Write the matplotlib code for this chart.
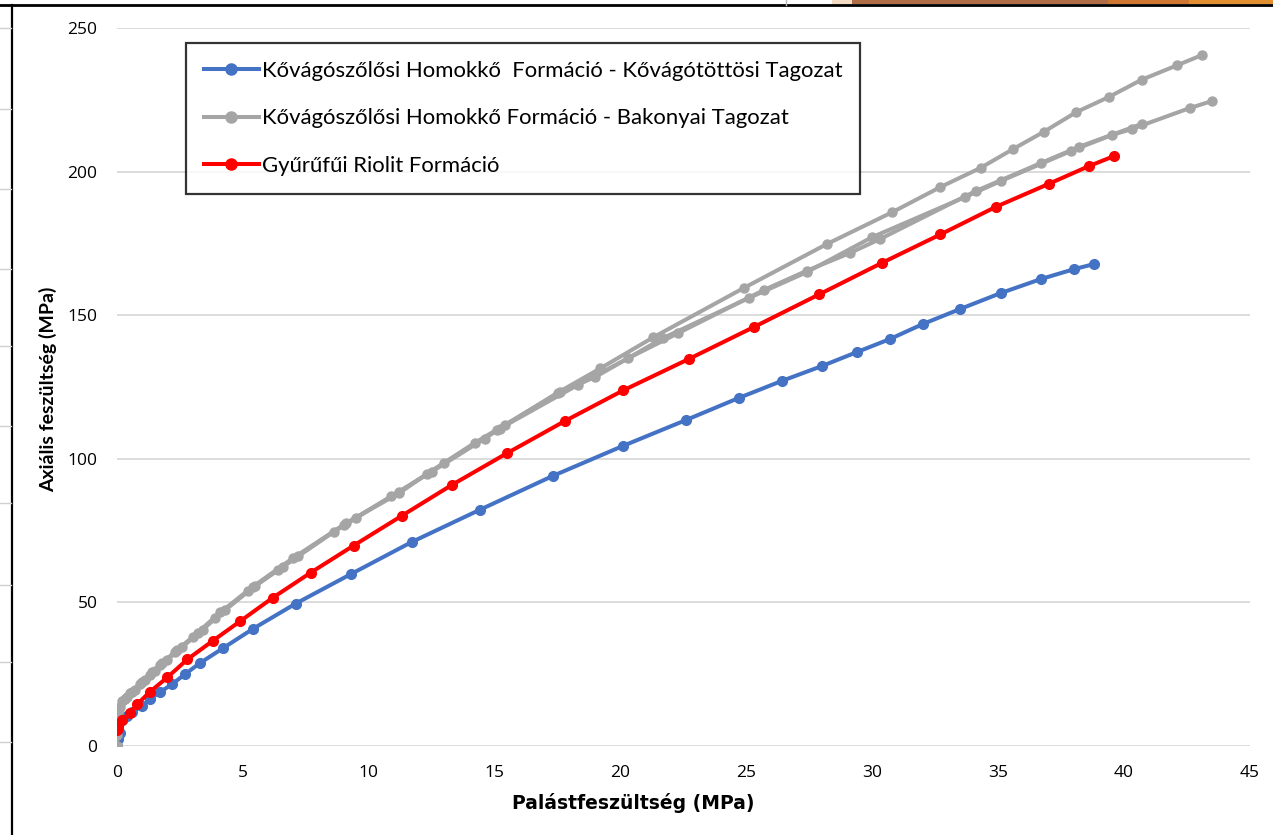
import matplotlib
matplotlib.use("Agg")
import matplotlib.pyplot as plt
from matplotlib.lines import Line2D
from matplotlib.patches import Rectangle

# Kővágótöttösi Tagozat (kék)
kt_x = [0.0, 0.05, 0.1, 0.2, 0.4, 0.6, 1.0, 1.3, 1.7, 2.2, 2.7, 3.3, 4.2, 5.4, 7.1,
        9.3, 11.7, 14.4, 17.3, 20.1, 22.6, 24.7, 26.4, 28.0, 29.4, 30.7, 32.0,
        33.5, 35.1, 36.7, 38.0, 38.8]
kt_y = [0.0, 2.5, 4.5, 9.1, 10.5, 12.0, 13.8, 16.3, 18.7, 21.6, 25.0, 28.9, 34.0,
        40.8, 49.6, 59.9, 71.0, 82.2, 94.0, 104.5, 113.5, 121.2, 127.1, 132.3,
        137.2, 141.7, 146.9, 152.2, 157.7, 162.6, 166.0, 167.8]

# Bakonyai Tagozat (szürke) - három minta
bk1_x = [0.0, 0.0, 0.05, 0.3, 0.6, 1.0, 1.4, 1.8, 2.4, 3.2, 4.1, 5.4, 7.0, 9.0,
         11.2, 13.0, 15.2, 17.5, 19.2, 21.3, 24.9, 28.2, 30.8, 32.7, 34.3, 35.6,
         36.8, 38.1, 39.4, 40.7, 42.1, 43.1]
bk1_y = [0.0, 4.0, 12.0, 16.3, 18.8, 22.2, 25.6, 28.8, 33.3, 39.5, 46.5, 55.5,
         65.5, 77.0, 88.5, 98.5, 110.5, 123.0, 131.5, 142.3, 159.5, 174.8, 185.9,
         194.6, 201.3, 207.9, 213.8, 220.7, 226.0, 232.0, 237.0, 240.6]

bk2_x = [0.0, 0.0, 0.0, 0.1, 0.4, 0.7, 1.1, 1.5, 2.0, 2.6, 3.4, 4.3, 5.5, 6.4, 7.2,
         9.1, 11.2, 12.3, 14.2, 15.4, 17.6, 19.0, 21.7, 25.1, 27.4, 30.0, 33.7,
         35.1, 37.9, 39.5, 40.3, 42.6, 43.5]
bk2_y = [0.0, 6.0, 10.8, 13.6, 17.0, 19.5, 23.0, 26.2, 30.0, 34.5, 40.5, 47.4,
         55.8, 61.3, 66.2, 77.6, 88.0, 94.7, 105.5, 111.8, 123.3, 128.5, 142.1,
         156.0, 165.0, 177.2, 191.2, 196.7, 207.2, 212.7, 214.8, 222.1, 224.6]

bk3_x = [0.0, 0.0, 0.05, 0.2, 0.5, 0.9, 1.3, 1.7, 2.3, 3.0, 3.9, 5.2, 6.6, 8.6,
         9.5, 10.9, 12.5, 14.6, 15.1, 18.3, 20.3, 22.3, 25.7, 27.4, 29.1, 30.3,
         34.1, 36.7, 38.2, 40.7]
bk3_y = [0.0, 8.0, 12.5, 15.5, 18.5, 21.5, 24.8, 28.2, 32.8, 37.8, 44.5, 54.0,
         62.5, 74.5, 79.4, 87.0, 95.5, 107.0, 110.0, 125.7, 135.0, 143.8, 158.8,
         165.5, 171.6, 176.5, 193.2, 203.0, 208.6, 216.6]

# Gyűrűfűi Riolit Formáció (piros)
gy_x = [0.0, 0.05, 0.2, 0.5, 0.8, 1.3, 2.0, 2.8, 3.8, 4.9, 6.2, 7.7, 9.4, 11.3,
        13.3, 15.5, 17.8, 20.1, 22.7, 25.3, 27.9, 30.4, 32.7, 34.9, 37.0, 38.6,
        39.6]
gy_y = [5.5, 6.6, 9.0, 11.5, 14.5, 18.8, 23.9, 30.2, 36.6, 43.5, 51.7, 60.4, 69.8,
        80.1, 90.9, 102.0, 113.2, 123.8, 134.7, 145.9, 157.3, 168.3, 178.1, 187.7,
        195.7, 201.9, 205.4]

labels = ["Kővágószőlősi Homokkő  Formáció - Kővágótöttösi Tagozat",
          "Kővágószőlősi Homokkő Formáció - Bakonyai Tagozat",
          "Gyűrűfűi Riolit Formáció"]
colors = ["#4472C4", "#A5A5A5", "#FF0000"]

W, H = 1273, 835
fig = plt.figure(figsize=(W / 100, H / 100), dpi=100)


def fx(p):
    return p / W


def fy(p):
    return 1 - p / H


ax = fig.add_axes([fx(117), fy(746), fx(1250) - fx(117), fy(28) - fy(746)])

lw = 2.9
ax.plot(kt_x, kt_y, color=colors[0], lw=lw, marker="o", ms=7, zorder=3)
for xs, ys in [(bk1_x, bk1_y), (bk2_x, bk2_y), (bk3_x, bk3_y)]:
    ax.plot(xs, ys, color=colors[1], lw=lw, marker="o", ms=6.5, zorder=4)
ax.plot(gy_x, gy_y, color=colors[2], lw=lw, marker="o", ms=7, zorder=5)

ax.set_xlim(0, 45)
ax.set_ylim(0, 250)
ax.set_xticks(range(0, 46, 5))
ax.set_yticks(range(0, 251, 50))
ax.grid(axis="y", color="#D9D9D9", lw=1.3)
ax.set_axisbelow(True)
for s in ax.spines.values():
    s.set_visible(False)
ax.tick_params(length=0, labelsize=12.5, colors="#000000")
ax.tick_params(axis="x", pad=14)
ax.tick_params(axis="y", pad=14)
for t in ax.get_xticklabels() + ax.get_yticklabels():
    t.set_fontfamily("Open Sans")

fig.text(fx(633), fy(803), "Palástfeszültség (MPa)", ha="center", va="center",
         fontsize=13.5, fontweight="bold", family="DejaVu Sans")
fig.text(fx(48), fy(389), "Axiális feszültség (MPa)", ha="center", va="center",
         rotation=90, fontsize=14, fontweight="bold", family="Lato")

handles = [Line2D([], [], color=c, lw=lw, marker="o", ms=8) for c in colors]
leg = fig.legend(handles, labels, loc="upper left",
                 bbox_to_anchor=(fx(186), fy(43)), frameon=True, fancybox=False,
                 prop={"family": "Lato", "size": 15.9}, handlelength=2.5,
                 handletextpad=0.15, labelspacing=1.25, borderpad=0.8,
                 borderaxespad=0, numpoints=1)
leg.get_frame().set_edgecolor("#000000")
leg.get_frame().set_linewidth(1.6)

# ablakkeret és táblázat vonalai a szélen
fig.add_artist(Line2D([0, 1], [fy(5), fy(5)], color="#000000", lw=2,
                      transform=fig.transFigure))
fig.add_artist(Line2D([fx(12), fx(12)], [0, fy(5)], color="#000000", lw=1.6,
                      transform=fig.transFigure))
for yy in [28, 109, 189, 269, 346, 426, 503, 585, 662, 742]:
    fig.add_artist(Line2D([0, fx(11)], [fy(yy), fy(yy)], color="#D0D0D0",
                          lw=1, transform=fig.transFigure))
fig.add_artist(Line2D([fx(786), fx(786)], [1, fy(5)], color="#BBBBBB", lw=1,
                      transform=fig.transFigure))
for x0, x1, c in [(832, 852, "#F3DCC4"), (852, 1108, "#B06E48"),
                  (1108, 1189, "#CF7630"), (1189, 1273, "#E08E30")]:
    fig.add_artist(Rectangle((fx(x0), fy(4)), fx(x1) - fx(x0), 1 - fy(4),
                             color=c, transform=fig.transFigure, lw=0))

fig.savefig("out.png", dpi=100)
